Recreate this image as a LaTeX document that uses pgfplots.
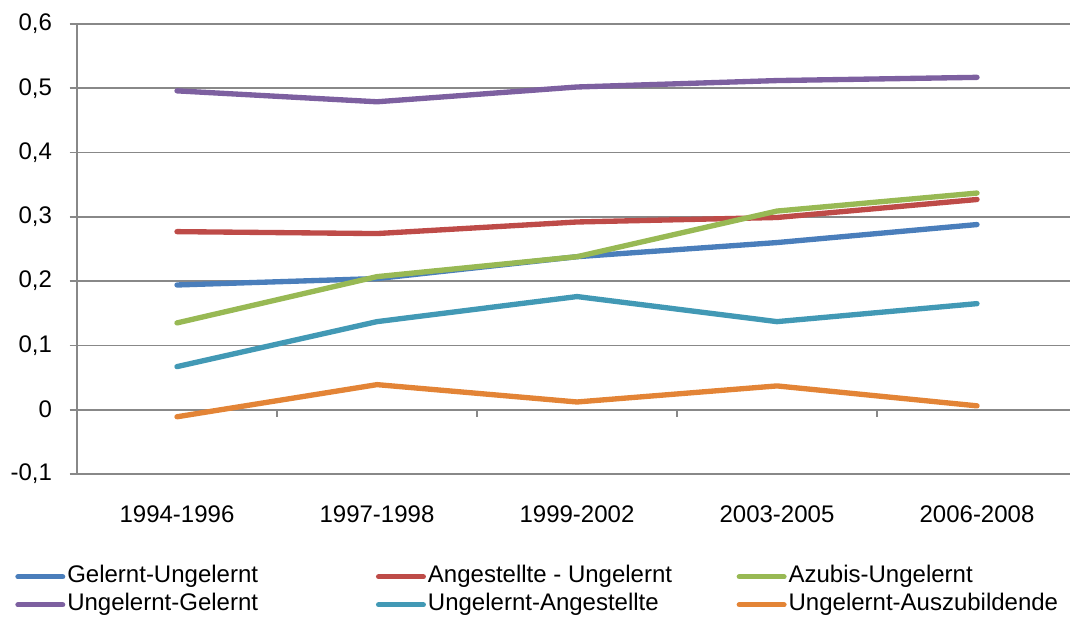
\documentclass[border=0pt]{standalone}
\usepackage{pgfplots}
\pgfplotsset{compat=1.18}
\usepackage{fontspec}
\setmainfont{Liberation Sans}
\definecolor{cblue}{HTML}{4A7EBB}
\definecolor{cred}{HTML}{BE4B48}
\definecolor{cgreen}{HTML}{98B954}
\definecolor{cpurple}{HTML}{7D60A0}
\definecolor{cteal}{HTML}{4299B5}
\definecolor{corange}{HTML}{E38436}
\definecolor{cgrid}{HTML}{888888}
\begin{document}
\begin{tikzpicture}
\begin{axis}[
  scale only axis,
  width=744.75pt, height=337.5pt,
  xmin=-0.5, xmax=4.465,
  ymin=-0.1, ymax=0.6,
  ytick={-0.1,0,0.1,0.2,0.3,0.4,0.5,0.6},
  yticklabels={{-0,1},0,{0,1},{0,2},{0,3},{0,4},{0,5},{0,6}},
  xtick={0,1,2,3,4},
  xticklabels={1994-1996,1997-1998,1999-2002,2003-2005,2006-2008},
  axis x line*=bottom,
  axis y line*=left,
  x axis line style={draw=cgrid, line width=1.3pt},
  y axis line style={draw=cgrid, line width=1.3pt},
  ymajorgrids,
  grid style={cgrid, line width=1.3pt},
  major x tick style={draw=none},
  major y tick style={cgrid, line width=1.3pt},
  ytick align=outside,
  major tick length=5.5pt,
  tick label style={font=\fontsize{18}{21}\selectfont},
  xticklabel style={yshift=-20pt},
  yticklabel style={xshift=-9.75pt},
  /pgf/number format/assume math mode=true,
  clip=false,
  legend columns=3,
  legend cell align=left,
  legend style={draw=none, fill=none, at={(axis description cs:-0.0624,-0.2035)}, anchor=north west,
    font=\fontsize{18}{21}\selectfont, inner sep=0pt,
    nodes={inner sep=0pt, text height=12.5pt, text depth=4pt},
    /tikz/every odd column/.append style={column sep=1.5pt},
    row sep=4.5pt},
  legend image code/.code={\draw[#1, line width=4pt, line cap=round] (1.5pt,0pt) -- (35pt,0pt);},
  every axis plot/.append style={line width=4pt, line cap=round, line join=round, mark=none},
]
\addplot[cblue] coordinates {(0,0.194) (1,0.204) (2,0.238) (3,0.260) (4,0.288)};
\addlegendentry{\makebox[231.5pt][l]{Gelernt-Ungelernt}}
\addplot[cred] coordinates {(0,0.277) (1,0.274) (2,0.292) (3,0.299) (4,0.327)};
\addlegendentry{\makebox[231.5pt][l]{Angestellte - Ungelernt}}
\addplot[cgreen] coordinates {(0,0.135) (1,0.207) (2,0.238) (3,0.309) (4,0.337)};
\addlegendentry{Azubis-Ungelernt}
\addplot[cpurple] coordinates {(0,0.496) (1,0.479) (2,0.502) (3,0.512) (4,0.517)};
\addlegendentry{\makebox[231.5pt][l]{Ungelernt-Gelernt}}
\addplot[cteal] coordinates {(0,0.067) (1,0.137) (2,0.176) (3,0.137) (4,0.165)};
\addlegendentry{\makebox[231.5pt][l]{Ungelernt-Angestellte}}
\addplot[corange] coordinates {(0,-0.011) (1,0.039) (2,0.012) (3,0.037) (4,0.006)};
\addlegendentry{Ungelernt-Auszubildende}
\draw[cgrid, line width=1.3pt] (axis cs:0.5,0) -- ([yshift=-5.5pt]axis cs:0.5,0);
\draw[cgrid, line width=1.3pt] (axis cs:1.5,0) -- ([yshift=-5.5pt]axis cs:1.5,0);
\draw[cgrid, line width=1.3pt] (axis cs:2.5,0) -- ([yshift=-5.5pt]axis cs:2.5,0);
\draw[cgrid, line width=1.3pt] (axis cs:3.5,0) -- ([yshift=-5.5pt]axis cs:3.5,0);
\coordinate (bl) at (rel axis cs:0,0);
\coordinate (tr) at (rel axis cs:1,1);
\end{axis}
\pgfresetboundingbox
\path[use as bounding box] ([xshift=-57.75pt,yshift=-112.5pt]bl) rectangle ([yshift=18pt]tr);
\end{tikzpicture}
\end{document}
